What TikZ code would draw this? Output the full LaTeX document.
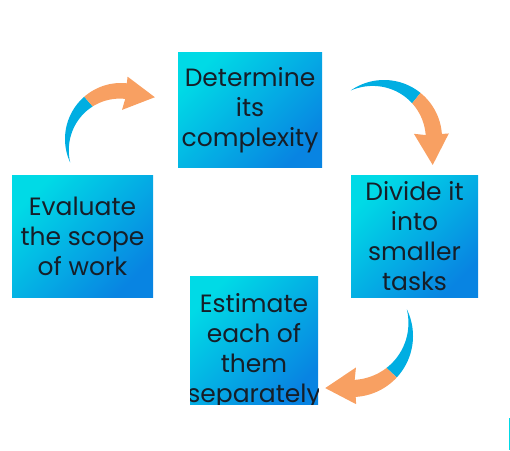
\documentclass[tikz,border=0pt]{standalone}
\usepackage{fontspec}
\setmainfont{Poppins}
\usetikzlibrary{positioning,calc}
\definecolor{boxcyan}{RGB}{0,218,230}
\definecolor{boxblue}{RGB}{8,132,226}
\definecolor{arrowblue}{RGB}{0,174,226}
\definecolor{arroworange}{RGB}{248,160,98}
\definecolor{textdark}{RGB}{22,30,40}

%% two-tone curved arrow: #1 centre, #2 radius, #3 tail angle, #4 span factor
\newcommand{\cyclearrow}[4]{%
  \begin{scope}[shift={#1},scale=#2,rotate=#3]
    \pgfmathsetmacro\angb{-74*#4}
    \pgfmathsetmacro\angh{-121*#4}
    \pgfmathsetmacro\angc{-117*#4}
    \pgfmathsetmacro\angt{-154*#4}
    %% blue tail
    \fill[arrowblue]
      plot[domain=0:\angb,samples=30,variable=\t] ({cos(\t)},{sin(\t)})
      -- plot[domain=\angb:0,samples=30,variable=\t]
         ({(1-0.28*sin(90*\t/\angh))*cos(\t)},{(1-0.28*sin(90*\t/\angh))*sin(\t)})
      -- cycle;
    %% orange head
    \fill[arroworange]
      plot[domain=\angb:\angh,samples=30,variable=\t] ({cos(\t)},{sin(\t)})
      -- (\angh:1.12) -- (\angt:0.96) -- (\angc:0.52) -- (\angh:0.72)
      -- plot[domain=\angh:\angb,samples=30,variable=\t]
         ({(1-0.28*sin(90*\t/\angh))*cos(\t)},{(1-0.28*sin(90*\t/\angh))*sin(\t)})
      -- cycle;
  \end{scope}}

\begin{document}
\begin{tikzpicture}[x=1pt,y=1pt,
  tasktext/.style={text=textdark,align=center,font=\fontsize{25}{30}\selectfont},
  taskbox/.style={tasktext,shading=axis,top color=boxcyan,bottom color=boxblue,
                  shading angle=45,inner sep=0pt}]
  \useasboundingbox (0,0) rectangle (510,450);

  %% Steps
  \node[taskbox,minimum width=144pt,minimum height=115pt] (det) at (250,339.5)
        {Determine\\its\\complexity};
  \node[taskbox,minimum width=141pt,minimum height=121pt] (eval) at (82.5,213.5)
        {Evaluate\\the scope\\of work};
  \node[taskbox,minimum width=127pt,minimum height=121pt] (div) at (414.5,213.5)
        {Divide it\\into\\smaller\\tasks};
  %% text runs past the box edge here, so it is clipped to the box
  \node[taskbox,minimum width=128pt,minimum height=128pt,
        path picture={\node[tasktext] at ([yshift=-11pt]path picture bounding box.center)
                      {Estimate\\each of\\them\\separately};}]
        (est) at (254,110) {};

  %% Arrows
  \cyclearrow{(121,311)}{56}{205}{1}
  \cyclearrow{(384,312)}{58}{125}{1}
  \cyclearrow{(352,114)}{61}{26}{0.93}

  %% edge of a cut-off box
  \draw[boxcyan,line width=1pt] (509,0) -- (509,32);
\end{tikzpicture}
\end{document}
